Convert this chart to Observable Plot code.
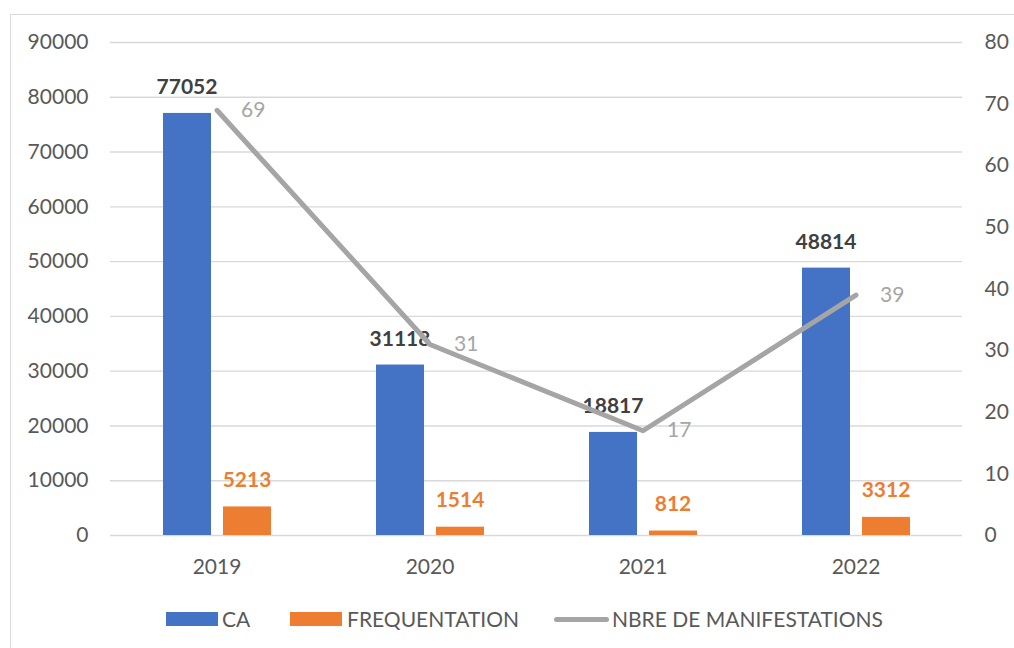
<!DOCTYPE html>
<html>
<head>
<meta charset="utf-8">
<script src="https://cdn.jsdelivr.net/npm/d3@7"></script>
<script src="https://cdn.jsdelivr.net/npm/@observablehq/plot@0.6"></script>
<style>
  html, body { margin: 0; padding: 0; background: #fff; width: 1014px; height: 648px; overflow: hidden; }
  body { position: relative; font-family: Lato, "Open Sans", sans-serif; }
  #frame { position: absolute; left: 10px; top: 14px; width: 1100px; height: 700px; border: 1.5px solid #d9d9d9; box-sizing: border-box; }
  #chart { position: absolute; left: 0; top: 0; }
  .leg { position: absolute; font-size: 21px; color: #595959; line-height: 20px; white-space: nowrap; }
  .sw { position: absolute; }
</style>
</head>
<body>
<div id="frame"></div>
<div id="chart"></div>
<div id="legend"></div>
<script>
const years = ["2019", "2020", "2021", "2022"];
const caValues = [77052, 31118, 18817, 48814];
const freqValues = [5213, 1514, 812, 3312];
const manifValues = [69, 31, 17, 39];
const leftTicks = [0, 10000, 20000, 30000, 40000, 50000, 60000, 70000, 80000, 90000];
const rightTicks = [0, 10, 20, 30, 40, 50, 60, 70, 80];
const seriesNames = ["CA", "FREQUENTATION", "NBRE DE MANIFESTATIONS"];
const seriesColors = ["#4472C4", "#ED7D31", "#A5A5A5"];

const rows = years.map((year, i) => ({year, ca: caValues[i], freq: freqValues[i], n: manifValues[i]}));
const yRight = d3.scaleLinear([0, 80], [0, 90000]);

const W = 1014, H = 600;
const chart = Plot.plot({
  width: W,
  height: H,
  marginLeft: 110,
  marginRight: 52,
  marginTop: 42,
  marginBottom: 65,
  style: {fontFamily: "Lato, 'Open Sans', sans-serif", fontSize: "21px", color: "#595959", background: "transparent", overflow: "visible"},
  x: {domain: years, padding: 0, label: null},
  y: {domain: [0, 90000], label: null},
  marks: [
    Plot.gridY(leftTicks, {stroke: "#d9d9d9", strokeOpacity: 1, strokeWidth: 1.4}),
    Plot.axisY(leftTicks, {anchor: "left", tickSize: 0, tickPadding: 22, tickFormat: d => String(d), label: null}),
    Plot.axisY(rightTicks.map(v => yRight(v)), {anchor: "right", tickSize: 0, tickPadding: 22, tickFormat: d => String(Math.round(yRight.invert(d))), label: null}),
    Plot.axisX({tickSize: 0, tickPadding: 24, label: null}),
    Plot.barY(rows, {x: "year", y: "ca", fill: seriesColors[0], insetLeft: 53, insetRight: 112}),
    Plot.barY(rows, {x: "year", y: "freq", fill: seriesColors[1], insetLeft: 113, insetRight: 52}),
    Plot.text(rows, {x: "year", y: "ca", text: d => String(d.ca), dx: -30, dy: -26, fill: "#404040", fontWeight: "bold", fontSize: 21, lineAnchor: "middle"}),
    Plot.text(rows, {x: "year", y: "freq", text: d => String(d.freq), dx: 30, dy: -27, fill: seriesColors[1], fontWeight: "bold", fontSize: 21, lineAnchor: "middle"}),
    Plot.line(rows, {x: "year", y: d => yRight(d.n), stroke: seriesColors[2], strokeWidth: 5, strokeLinecap: "round", strokeLinejoin: "round"}),
    Plot.text(rows, {x: "year", y: d => yRight(d.n), text: d => String(d.n), dx: 24, textAnchor: "start", fill: seriesColors[2], fontSize: 21, lineAnchor: "middle"})
  ]
});
document.getElementById("chart").appendChild(chart);

// Legend
const legend = document.getElementById("legend");
const legendItems = [
  {name: seriesNames[0], color: seriesColors[0], kind: "rect", sx: 166, tx: 222},
  {name: seriesNames[1], color: seriesColors[1], kind: "rect", sx: 290, tx: 347},
  {name: seriesNames[2], color: seriesColors[2], kind: "line", sx: 554, tx: 612}
];
legendItems.forEach(it => {
  const sw = document.createElement("div");
  sw.className = "sw";
  if (it.kind === "rect") {
    Object.assign(sw.style, {left: it.sx + "px", top: "612px", width: "52px", height: "14px", background: it.color});
  } else {
    Object.assign(sw.style, {left: it.sx + "px", top: "617px", width: "55px", height: "5px", background: it.color, borderRadius: "3px"});
  }
  legend.appendChild(sw);
  const t = document.createElement("div");
  t.className = "leg";
  t.textContent = it.name;
  Object.assign(t.style, {left: it.tx + "px", top: "609px"});
  legend.appendChild(t);
});
</script>
</body>
</html>
